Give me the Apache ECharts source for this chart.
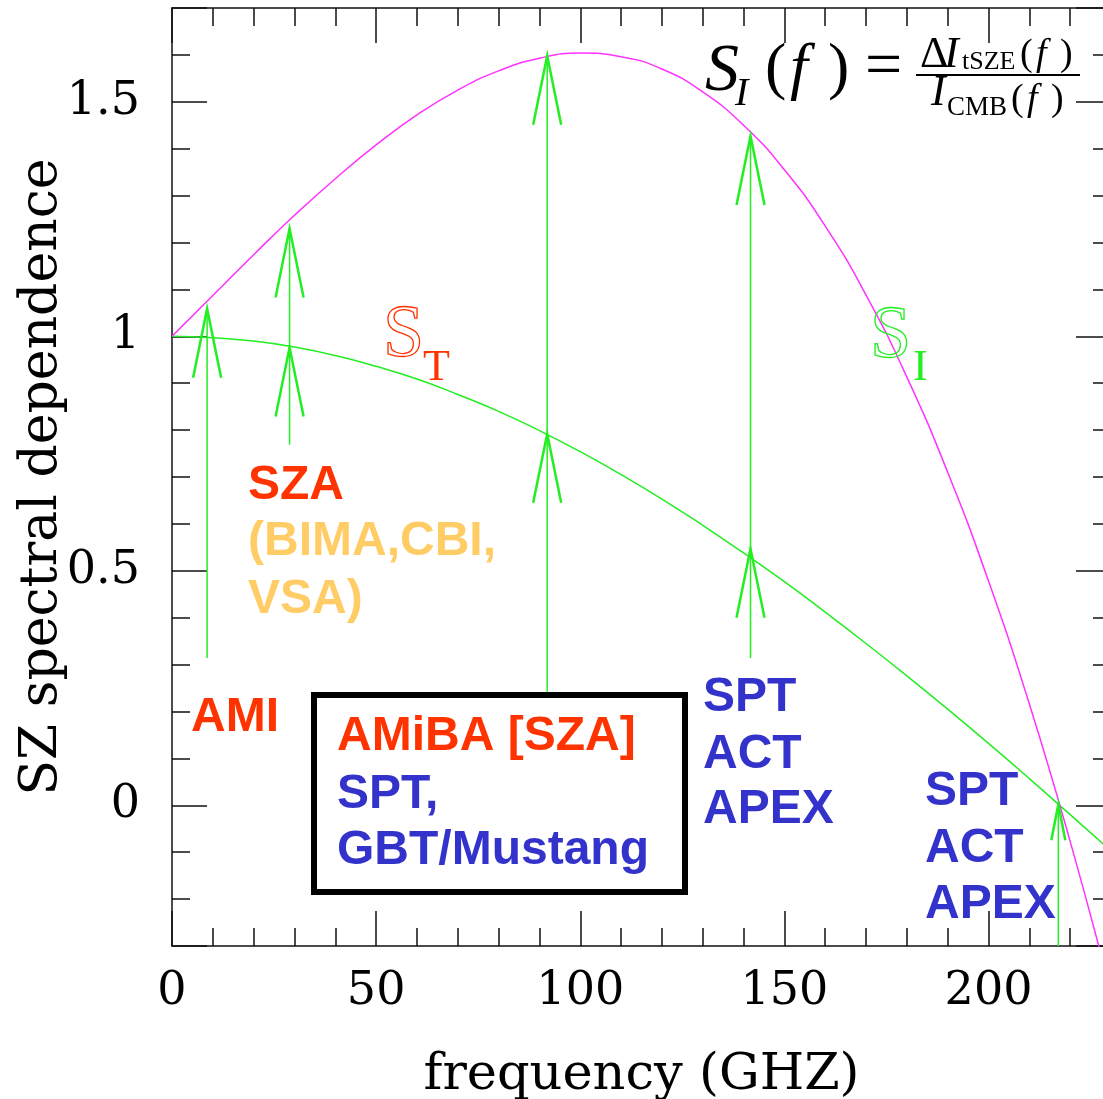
<!DOCTYPE html>
<html>
<head>
<meta charset="utf-8">
<script src="https://cdn.jsdelivr.net/npm/echarts@6/dist/echarts.min.js"></script>
<style>
html, body { margin: 0; padding: 0; background: #fff; overflow: hidden; }
#main { width: 1103px; height: 1099px; }
</style>
</head>
<body>
<div id="main"></div>
<script>
// frequency grid (GHz) and the two curves
var freqs = [0, 10, 20, 30, 40, 50, 60, 70, 80, 90, 100, 110, 120, 130, 140, 150, 160, 170, 180, 190, 200, 210, 220, 230]
var sT = [1.000, 0.997, 0.990, 0.977, 0.959, 0.936, 0.909, 0.876, 0.840, 0.799, 0.754, 0.705, 0.653, 0.597, 0.538, 0.477, 0.412, 0.345, 0.276, 0.205, 0.132, 0.057, -0.020, -0.097]
var sI = [1.000, 1.087, 1.174, 1.258, 1.336, 1.408, 1.472, 1.525, 1.566, 1.593, 1.604, 1.596, 1.570, 1.521, 1.450, 1.355, 1.235, 1.088, 0.913, 0.710, 0.478, 0.216, -0.077, -0.400]

// observing bands: arrow frequency, bottom of the shaft, arrow tips
var arrowFreq = [8.6, 28.8, 91.9, 141.7, 217.1]
var arrowLow = [0.314, 0.769, 0.237, 0.314, -0.3]
var arrowTips = [[1.059], [1.23, 0.976], [1.598, 0.792], [1.427, 0.547], [0.002]]

var green = '#22ee22'
var magenta = '#ff33ff'
var red = '#ff3300'
var blue = '#3333cc'
var yellow = '#ffcc66'
var serif = "'Liberation Serif', 'Times New Roman', serif"
var sans = "'Liberation Sans', Arial, sans-serif"
var hershey = "'DejaVu Serif', serif"

var chart = echarts.init(document.getElementById('main'))

function zip(xs, ys) {
	return xs.map(function (x, i) { return [x, ys[i]] })
}

var arrowData = arrowFreq.map(function (f, i) {
	return [f, arrowLow[i], Math.max.apply(null, arrowTips[i])]
})

function renderArrow(params, api) {
	var i = params.dataIndex
	var f = api.value(0)
	var p0 = api.coord([f, api.value(1)])
	var p1 = api.coord([f, api.value(2)])
	var small = i == arrowFreq.length - 1
	var len = small ? 36 : 69
	var half = small ? 7 : 14
	var kids = [{
		type: 'line',
		shape: { x1: p0[0], y1: p0[1], x2: p1[0], y2: p1[1] },
		style: { stroke: green, lineWidth: 1.5 }
	}]
	arrowTips[i].forEach(function (t) {
		var tip = api.coord([f, t])
		kids.push({
			type: 'polyline',
			shape: { points: [[tip[0] - half, tip[1] + len], [tip[0], tip[1]], [tip[0] + half, tip[1] + len]] },
			style: { stroke: green, lineWidth: 2.5, fill: null }
		})
	})
	return { type: 'group', children: kids }
}

// axis look (PGPLOT style box with inward ticks)
var lineStyle = { color: '#111', width: 1.5 }
var tickLabel = { color: '#000', fontSize: 46, fontFamily: hershey }

function boxAxis(extra) {
	return Object.assign({
		type: 'value',
		axisLine: { show: true, onZero: false, lineStyle: lineStyle },
		axisTick: { show: true, inside: true, length: 35, lineStyle: lineStyle },
		minorTick: { show: true, splitNumber: 5, length: 18, lineStyle: lineStyle },
		splitLine: { show: false },
		axisLabel: { show: false }
	}, extra)
}

function txt(text, x, y, size, color, opts) {
	opts = opts || {}
	return {
		type: 'text', x: x, y: y, z: 100,
		style: {
			text: text,
			fontSize: size,
			fontFamily: opts.family || sans,
			fontWeight: opts.weight || 'bold',
			fontStyle: opts.style || 'normal',
			fill: opts.fill || color,
			stroke: opts.stroke,
			lineWidth: opts.lw || 0,
			align: 'left',
			verticalAlign: 'middle'
		}
	}
}

var option = {
	animation: false,
	backgroundColor: '#fff',
	grid: { left: 172, top: 8, bottom: 153, right: -8, outerBoundsMode: 'none', containLabel: false },
	xAxis: [
		boxAxis({
			min: 0, max: 230, interval: 50, position: 'bottom',
			axisLabel: Object.assign({ show: true, margin: 23, showMaxLabel: false }, tickLabel),
			name: 'frequency (GHZ)',
			nameLocation: 'middle',
			nameGap: 104,
			nameMoveOverlap: false,
			nameTextStyle: { color: '#000', fontSize: 51, fontFamily: hershey }
		}),
		boxAxis({ min: 0, max: 230, interval: 50, position: 'top' })
	],
	yAxis: [
		boxAxis({
			min: -0.3, max: 1.7, splitNumber: 4, position: 'left',
			axisLabel: Object.assign({ show: true, margin: 32, showMinLabel: false, showMaxLabel: false }, tickLabel),
			name: 'SZ spectral dependence',
			nameLocation: 'middle',
			nameGap: 104,
			nameMoveOverlap: false,
			nameTextStyle: { color: '#000', fontSize: 52, fontFamily: hershey }
		}),
		boxAxis({ min: -0.3, max: 1.7, splitNumber: 4, position: 'right' })
	],
	series: [{
		name: 'S_T', type: 'line', smooth: true, showSymbol: false,
		data: zip(freqs, sT),
		lineStyle: { color: green, width: 1.5 }
	}, {
		name: 'S_I', type: 'line', smooth: true, showSymbol: false,
		data: zip(freqs, sI),
		lineStyle: { color: magenta, width: 1.5 }
	}, {
		type: 'custom',
		renderItem: renderArrow,
		encode: { x: 0, y: [1, 2] },
		data: arrowData,
		z: 5
	}],
	graphic: [
		// curve labels
		txt('S', 383, 337, 74, red, { family: serif, weight: 'normal', fill: 'rgba(0,0,0,0)', stroke: red, lw: 1.3 }),
		txt('T', 423, 368, 44, red, { family: serif, weight: 'normal' }),
		txt('S', 870, 338, 74, green, { family: serif, weight: 'normal', fill: 'rgba(0,0,0,0)', stroke: green, lw: 1.3 }),
		txt('I', 913, 368, 44, green, { family: serif, weight: 'normal' }),
		// formula
		txt('S', 705, 72, 68, '#000', { family: serif, weight: 'normal', style: 'italic' }),
		txt('I', 735, 94, 40, '#000', { family: serif, weight: 'normal', style: 'italic' }),
		txt('(', 765, 70, 64, '#000', { family: serif, weight: 'normal' }),
		txt('f', 790, 70, 64, '#000', { family: serif, weight: 'normal', style: 'italic' }),
		txt(')', 828, 70, 64, '#000', { family: serif, weight: 'normal' }),
		txt('=', 865, 69, 66, '#000', { family: serif, weight: 'normal' }),
		txt('\u0394', 920, 55, 44, '#000', { family: serif, weight: 'normal' }),
		txt('I', 944, 55, 44, '#000', { family: serif, weight: 'normal', style: 'italic' }),
		txt('tSZE', 962, 62, 26, '#000', { family: serif, weight: 'normal' }),
		txt('(', 1020, 55, 38, '#000', { family: serif, weight: 'normal' }),
		txt('f', 1036, 55, 38, '#000', { family: serif, weight: 'normal', style: 'italic' }),
		txt(')', 1060, 55, 38, '#000', { family: serif, weight: 'normal' }),
		{ type: 'line', z: 100, shape: { x1: 916, y1: 75, x2: 1080, y2: 75 }, style: { stroke: '#000', lineWidth: 2 } },
		txt('I', 931, 93, 44, '#000', { family: serif, weight: 'normal', style: 'italic' }),
		txt('CMB', 947, 108, 27, '#000', { family: serif, weight: 'normal' }),
		txt('(', 1011, 100, 38, '#000', { family: serif, weight: 'normal' }),
		txt('f', 1027, 100, 38, '#000', { family: serif, weight: 'normal', style: 'italic' }),
		txt(')', 1051, 100, 38, '#000', { family: serif, weight: 'normal' }),
		// instrument labels
		txt('SZA', 248, 486, 48, red),
		txt('(BIMA,CBI,', 248, 542, 48, yellow),
		txt('VSA)', 248, 600, 48, yellow),
		txt('AMI', 191, 718, 48, red),
		{ type: 'rect', z: 90, shape: { x: 314, y: 695, width: 371, height: 197 }, style: { fill: '#fff', stroke: '#000', lineWidth: 6 } },
		txt('AMiBA [SZA]', 337, 737, 48, red),
		txt('SPT,', 337, 795, 48, blue),
		txt('GBT/Mustang', 337, 851, 48, blue),
		txt('SPT', 703, 698, 48, blue),
		txt('ACT', 703, 755, 48, blue),
		txt('APEX', 703, 810, 48, blue),
		txt('SPT', 925, 792, 48, blue),
		txt('ACT', 925, 849, 48, blue),
		txt('APEX', 925, 905, 48, blue)
	]
}

chart.setOption(option)
</script>
</body>
</html>
